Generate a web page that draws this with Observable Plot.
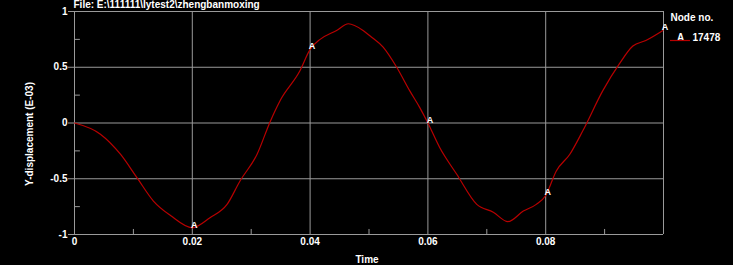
<!DOCTYPE html>
<html><head><meta charset="utf-8">
<script src="https://cdn.jsdelivr.net/npm/d3@7"></script>
<script src="https://cdn.jsdelivr.net/npm/@observablehq/plot@0.6"></script>
<style>html,body{margin:0;padding:0;background:#000;overflow:hidden}</style>
</head><body><div id="chart"></div><script>
const titleText = "File: E:\\111111\\lytest2\\zhengbanmoxing";
const xLabel = "Time";
const yLabel = "Y-displacement (E-03)";
const legendTitle = "Node no.";
const legendSymbol = "A";
const legendNode = "17478";

const time = [0, 0.0044, 0.0078, 0.0106, 0.0134, 0.0163, 0.02, 0.023, 0.0259, 0.0281, 0.031, 0.0332, 0.0349, 0.0383, 0.04, 0.0417, 0.0445, 0.0465, 0.049, 0.0502, 0.0524, 0.0547, 0.0569, 0.0586, 0.06, 0.062, 0.0649, 0.0683, 0.0711, 0.0736, 0.0762, 0.0784, 0.08, 0.0818, 0.0841, 0.0863, 0.0897, 0.0925, 0.0948, 0.097, 0.0999];
const disp = [0, -0.1, -0.28, -0.49, -0.70, -0.83, -0.94, -0.85, -0.73, -0.52, -0.28, 0.01, 0.2, 0.47, 0.66, 0.75, 0.83, 0.89, 0.83, 0.78, 0.68, 0.5, 0.29, 0.14, 0.0, -0.22, -0.46, -0.73, -0.80, -0.885, -0.79, -0.73, -0.65, -0.43, -0.28, -0.07, 0.29, 0.53, 0.69, 0.74, 0.83];

const markerTimes = [0.02, 0.04, 0.06, 0.08, 0.0999];
const markerValues = [-0.94, 0.66, 0.0, -0.65, 0.83];

const xTicks = [0, 0.02, 0.04, 0.06, 0.08];
const xGrid = [0.02, 0.04, 0.06, 0.08];
const xMinor = [0.01, 0.03, 0.05, 0.07, 0.09];
const yTicks = [-1, -0.5, 0, 0.5, 1];
const yGrid = [-0.5, 0, 0.5];
const yMinor = [-0.75, -0.25, 0.25, 0.75];

const series = time.map((t, i) => ({t, v: disp[i]}));
const markers = markerTimes.map((t, i) => ({t, v: markerValues[i]}));

const grey = "#9a9a9a";
const red = "#b80000";
const font = "'Liberation Sans', Arial, sans-serif";

const chart = Plot.plot({
  width: 733, height: 265,
  marginLeft: 74, marginRight: 70, marginTop: 11, marginBottom: 31,
  style: {background: "#000", color: "#fff", fontFamily: font, fontSize: "10px", fontWeight: "bold"},
  x: {domain: [0, 0.1], label: null},
  y: {domain: [-1, 1], label: null},
  marks: [
    Plot.gridX(xGrid, {stroke: grey, strokeOpacity: 1}),
    Plot.gridY(yGrid, {stroke: grey, strokeOpacity: 1}),
    Plot.ruleX([0, 0.1], {stroke: grey}),
    Plot.ruleY([-1, 1], {stroke: grey}),
    Plot.ruleX(xMinor, {y1: -1, y2: -0.955, stroke: grey}),
    Plot.ruleY(yMinor, {x1: 0, x2: 0.001, stroke: grey}),
    Plot.axisX(xTicks, {tickSize: 0, tickPadding: 3, tickFormat: d => String(d), fill: "#fff", fontWeight: "bold", label: null}),
    Plot.axisY(yTicks, {tickSize: 6, tickPadding: 1, tickFormat: d => String(d), stroke: grey, fill: "#fff", fontWeight: "bold", label: null}),
    Plot.line(series, {x: "t", y: "v", stroke: red, strokeWidth: 1.2, curve: "monotone-x"}),
    Plot.text(markers, {x: "t", y: "v", text: () => legendSymbol, dx: 2, dy: -3, fill: "#fff", fontSize: 9, fontWeight: "bold"}),
    Plot.text([titleText], {frameAnchor: "top-left", dx: -1, dy: -7, textAnchor: "start", lineAnchor: "middle", fill: "#fff", fontSize: 10, fontWeight: "bold"}),
    Plot.text([yLabel], {frameAnchor: "left", dx: -45, dy: 11, rotate: -90, textAnchor: "middle", lineAnchor: "middle", fill: "#fff", fontSize: 10, fontWeight: "bold"}),
    Plot.text([xLabel], {frameAnchor: "bottom", dx: -2, dy: 25, textAnchor: "middle", lineAnchor: "middle", fill: "#fff", fontSize: 10, fontWeight: "bold"}),
    Plot.text([legendTitle], {frameAnchor: "top-right", dx: 7, dy: 6, textAnchor: "start", lineAnchor: "middle", fill: "#fff", fontSize: 10, fontWeight: "bold"}),
    Plot.text([legendSymbol], {frameAnchor: "top-right", dx: 17, dy: 26, textAnchor: "middle", lineAnchor: "middle", fill: "#fff", fontSize: 10, fontWeight: "bold"}),
    Plot.text([legendNode], {frameAnchor: "top-right", dx: 29, dy: 26, textAnchor: "start", lineAnchor: "middle", fill: "#fff", fontSize: 10, fontWeight: "bold"}),
    (index, scales, values, dims) => {
      const x0 = dims.width - dims.marginRight;
      const line = document.createElementNS("http://www.w3.org/2000/svg", "line");
      line.setAttribute("x1", x0 + 7);
      line.setAttribute("x2", x0 + 27);
      line.setAttribute("y1", dims.marginTop + 29.5);
      line.setAttribute("y2", dims.marginTop + 29.5);
      line.setAttribute("stroke", red);
      line.setAttribute("stroke-width", 1.2);
      return line;
    }
  ]
});
document.getElementById("chart").appendChild(chart);
</script></body></html>
